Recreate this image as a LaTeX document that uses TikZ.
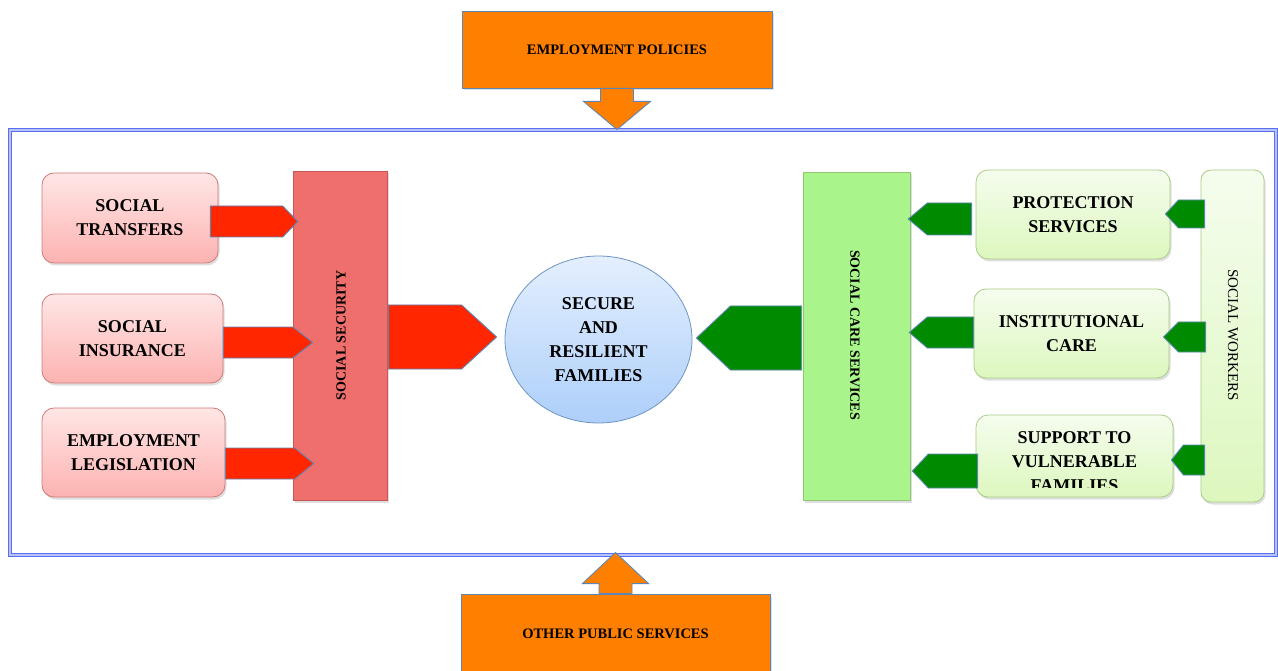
\documentclass[tikz,border=0pt]{standalone}
\usepackage{fontspec}
\setmainfont{Liberation Serif}
\usetikzlibrary{shapes.geometric,shadows,calc}
\definecolor{orangeA}{HTML}{FF7F00}
\definecolor{redA}{HTML}{FF2600}
\definecolor{greenA}{HTML}{008A00}
\definecolor{arrowedge}{HTML}{5E86B5}
\definecolor{frameblue}{HTML}{5A6EF2}
\definecolor{frameinner}{HTML}{B8C2FA}
\definecolor{pinkTop}{HTML}{FFE6E6}
\definecolor{pinkBot}{HTML}{FCB3B1}
\definecolor{pinkEdge}{HTML}{D07A78}
\definecolor{grTop}{HTML}{F5FDEE}
\definecolor{grBot}{HTML}{DDF7BE}
\definecolor{grEdge}{HTML}{A9CC86}
\definecolor{ssFill}{HTML}{EE6F6C}
\definecolor{ssEdge}{HTML}{C45654}
\definecolor{scsFill}{HTML}{A9F58B}
\definecolor{scsEdge}{HTML}{95C676}
\definecolor{famTop}{HTML}{E4EFFE}
\definecolor{famBot}{HTML}{ADCFFA}
\definecolor{famEdge}{HTML}{6E95C4}
\newcommand\homeplate[5]{%
  \filldraw[blockarrow,fill=#1] let \p1=(#2), \p2=(#3) in
  ({\x1},{\y2+#4}) -- ({\x2-(#5)},{\y2+#4}) -- (\p2) -- ({\x2-(#5)},{\y2-#4}) -- ({\x1},{\y2-#4}) -- cycle;}
\newcommand\vblock[5]{%
  \filldraw[blockarrow,fill=orangeA] let \p1=(#1), \p2=(#2) in
  ({\x2-#3},{\y1}) -- ({\x2-#3},{\y2+(#5)}) -- ({\x2-#4},{\y2+(#5)}) -- (\p2) --
  ({\x2+#4},{\y2+(#5)}) -- ({\x2+#3},{\y2+(#5)}) -- ({\x2+#3},{\y1}) -- cycle;}
\begin{document}
\begin{tikzpicture}[x=1pt,y=-1pt,
  blockarrow/.style={draw=arrowedge,line width=0.9pt,line join=miter},
  bigtext/.style={font=\bfseries\fontsize{18}{24}\selectfont,align=center,text=black},
  shad/.style={drop shadow={shadow xshift=1.5pt,shadow yshift=-2.5pt,opacity=0.25}},
  pinkbox/.style={rectangle,rounded corners=12pt,draw=pinkEdge,line width=0.8pt,
    top color=pinkTop,bottom color=pinkBot,shad,bigtext,inner sep=0pt},
  greenbox/.style={rectangle,rounded corners=12pt,draw=grEdge,line width=0.8pt,
    top color=grTop,bottom color=grBot,shad,bigtext,inner sep=0pt},
  orangebox/.style={rectangle,fill=orangeA,draw=arrowedge,line width=0.8pt,
    font=\bfseries\fontsize{14.5}{17}\selectfont,text=black,shad,inner sep=0pt},
  framebox/.style={rectangle,draw=frameblue,double=frameinner,double distance=1.4pt,
    line width=1.1pt,inner sep=0pt}]
\useasboundingbox (0,0) rectangle (1278,671);
\fill[white] (0,0) rectangle (1278,671);

% frame
\node[framebox,minimum width=1266pt,minimum height=425pt] (frame) at (643,342.5) {};

% top and bottom boxes
\node[orangebox,minimum width=310pt,minimum height=77pt] (ep) at (617,49.5) {EMPLOYMENT POLICIES};
\node[orangebox,minimum width=309pt,minimum height=80pt] (ops) at (615.5,634) {OTHER PUBLIC SERVICES};
\vblock{ep.south}{ep.south |- frame.north}{16.5pt}{33.5pt}{28pt}
\vblock{ops.north}{$(ops.north |- frame.south)+(0,-3)$}{16.5pt}{33pt}{-31pt}

% left side
\node[pinkbox,minimum width=176pt,minimum height=90pt] (st) at (130,218) {SOCIAL\\TRANSFERS};
\node[pinkbox,minimum width=181pt,minimum height=89pt] (si) at (132.5,338.5) {SOCIAL\\INSURANCE};
\node[pinkbox,minimum width=183pt,minimum height=89pt] (el) at (133.5,452.5) {EMPLOYMENT\\LEGISLATION};
\node[rectangle,fill=ssFill,draw=ssEdge,line width=0.6pt,shad,minimum width=94pt,minimum height=329pt,inner sep=0pt] (ss) at (340,335.5) {};
\node[rotate=90,font=\bfseries\fontsize{14}{16}\selectfont,text=black] (sstext) at (341,335.5) {SOCIAL SECURITY};

% centre
\node[ellipse,draw=famEdge,line width=0.8pt,top color=famTop,bottom color=famBot,
  minimum width=187pt,minimum height=167pt,inner sep=0pt,bigtext] (fam) at (598.5,339.5)
  {SECURE\\AND\\RESILIENT\\FAMILIES};

% right side
\node[rectangle,fill=scsFill,draw=scsEdge,line width=0.6pt,shad,minimum width=107pt,minimum height=328pt,inner sep=0pt] (scs) at (856.5,336) {};
\node[rotate=-90,font=\bfseries\fontsize{14}{16}\selectfont,text=black] (scstext) at (855,335) {SOCIAL CARE SERVICES};
\node[greenbox,minimum width=194pt,minimum height=89pt] (ps) at (1073,214.5) {PROTECTION\\SERVICES};
\node[greenbox,minimum width=195pt,minimum height=89pt] (ic) at (1071.5,333.5) {INSTITUTIONAL\\CARE};
\node[greenbox,minimum width=197pt,minimum height=82pt] (svf) at (1074.5,456) {};
\begin{scope}
  \clip (960,400) rectangle (1190,487.5);
  \node[bigtext] (svftext) at (1074.5,462) {SUPPORT TO\\VULNERABLE\\FAMILIES};
\end{scope}
\node[rectangle,rounded corners=10pt,draw=grEdge,line width=0.8pt,top color=grTop,bottom color=grBot,shad,
  minimum width=63pt,minimum height=332pt,inner sep=0pt] (sw) at (1232.5,336) {};
\node[rotate=-90,font=\fontsize{15}{17}\selectfont,text=black] (swtext) at (1233,335) {SOCIAL WORKERS};

% red arrows
\homeplate{redA}{$(st.east)+(-8,0)$}{$(ss.west|-st.east)+(5,3.5)$}{15.5pt}{15pt}
\homeplate{redA}{si.east}{$(ss.west|-si.east)+(20,4)$}{15.5pt}{20pt}
\homeplate{redA}{el.east}{$(ss.west|-el.east)+(21,11)$}{15.5pt}{19pt}
\homeplate{redA}{$(ss.east)+(1,0)$}{$(fam.west)+(-8,-2.5)$}{32pt}{35pt}

% green arrows
\homeplate{greenA}{$(scs.west)+(-1,0)$}{$(fam.east)+(4,-1.5)$}{32pt}{-34pt}
\homeplate{greenA}{$(ps.west)+(-4,0)$}{$(scs.east|-ps.west)+(-2,4.5)$}{16pt}{-19pt}
\homeplate{greenA}{ic.west}{$(scs.east|-ic.west)+(-1,-1)$}{15.5pt}{-18pt}
\homeplate{greenA}{$(svf.west)+(2,0)$}{$(scs.east|-svf.west)+(2,15)$}{17pt}{-16pt}
\homeplate{greenA}{$(sw.west)+(4,0)$}{$(ps.east)+(-5,-0.5)$}{14pt}{-13pt}
\homeplate{greenA}{$(sw.west)+(5,0)$}{$(ic.east)+(-6,3.5)$}{15pt}{-15pt}
\homeplate{greenA}{$(sw.west)+(4,0)$}{$(svf.east)+(-2,4)$}{15pt}{-12pt}
\end{tikzpicture}
\end{document}
